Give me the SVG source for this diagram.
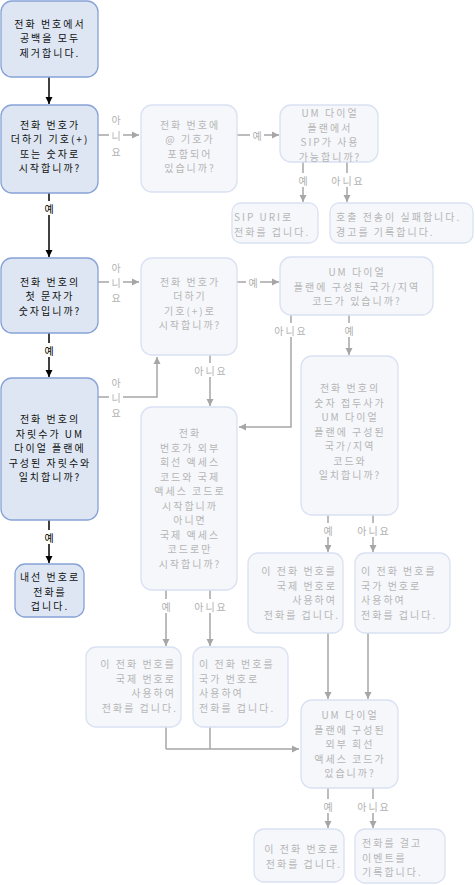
<svg xmlns="http://www.w3.org/2000/svg" width="475" height="885" viewBox="0 0 475 885">
<defs>
<marker id="ab" markerUnits="userSpaceOnUse" markerWidth="8" markerHeight="8" refX="7" refY="4" orient="auto"><path d="M0,0.5 L7,4 L0,7.5 z" fill="#000"/></marker>
<marker id="ag" markerUnits="userSpaceOnUse" markerWidth="8" markerHeight="8" refX="7" refY="4" orient="auto"><path d="M0,0.5 L7,4 L0,7.5 z" fill="#a6a6a6"/></marker>
</defs>
<style>
text{font-family:"Noto Sans CJK KR","Noto Sans",sans-serif;font-size:10px;letter-spacing:2px;dominant-baseline:central}
.a rect{fill:#dee6f3;stroke:#87a2d6;stroke-width:1.3}
.a text{fill:#111;text-anchor:middle}
.f rect{fill:#f5f7fb;stroke:#d9e1f2;stroke-width:1.3}
.f text{fill:#b5b5b5;text-anchor:middle}
.f text.l{text-anchor:start}
.f text.r{text-anchor:end}
.cb{stroke:#000;stroke-width:1.5;fill:none;marker-end:url(#ab)}
.cg{stroke:#a6a6a6;stroke-width:1.5;fill:none;marker-end:url(#ag)}
.cn{stroke:#a6a6a6;stroke-width:1.5;fill:none}
.lb{fill:#fff}
.lt{fill:#b0b0b0;text-anchor:middle}
.ltb{fill:#000;text-anchor:middle}
</style>
<g id="connectors">
<path class="cb" d="M49,77 V104"/>
<path class="cg" d="M98,135 H139"/>
<path class="cg" d="M237,135 H279"/>
<path class="cg" d="M303,162 V202"/>
<path class="cg" d="M347,162 V202"/>
<path class="cb" d="M49,193 V257"/>
<path class="cg" d="M98,282 H139"/>
<path class="cg" d="M237,282 H279"/>
<path class="cb" d="M49,333 V377"/>
<path class="cg" d="M98,397 H157 V357"/>
<path class="cg" d="M210,355 V406"/>
<path class="cg" d="M291,315 V427 H239"/>
<path class="cg" d="M349,315 V355"/>
<path class="cg" d="M328,515 V552"/>
<path class="cg" d="M373,515 V552"/>
<path class="cb" d="M49,520 V563"/>
<path class="cg" d="M166,590 V646"/>
<path class="cg" d="M210,590 V646"/>
<path class="cn" d="M166,727 V749 M210,727 V749"/>
<path class="cg" d="M166,749 H299"/>
<path class="cg" d="M328,633 V699"/>
<path class="cg" d="M368,633 V699"/>
<path class="cg" d="M328,788 V828"/>
<path class="cg" d="M373,788 V828"/>
<g id="labels">
<rect class="lb" x="109" y="110" width="14" height="51"/>
<text class="lt"><tspan x="117" y="119">아</tspan><tspan x="117" y="135">니</tspan><tspan x="117" y="151">요</tspan></text>
<rect class="lb" x="250" y="128" width="14" height="14"/>
<text class="lt" x="258" y="135">예</text>
<rect class="lb" x="296" y="173" width="14" height="14"/>
<text class="lt" x="304" y="180">예</text>
<rect class="lb" x="329" y="173" width="36" height="14"/>
<text class="lt" x="348" y="180">아니요</text>
<rect class="lb" x="42" y="201" width="14" height="14"/>
<text class="ltb" x="50" y="208">예</text>
<rect class="lb" x="109" y="259" width="14" height="46"/>
<text class="lt"><tspan x="117" y="267">아</tspan><tspan x="117" y="282">니</tspan><tspan x="117" y="297">요</tspan></text>
<rect class="lb" x="246" y="275" width="14" height="14"/>
<text class="lt" x="254" y="282">예</text>
<rect class="lb" x="42" y="343" width="14" height="14"/>
<text class="ltb" x="50" y="350">예</text>
<rect class="lb" x="109" y="375" width="14" height="46"/>
<text class="lt"><tspan x="117" y="382">아</tspan><tspan x="117" y="397">니</tspan><tspan x="117" y="412">요</tspan></text>
<rect class="lb" x="192" y="363" width="36" height="14"/>
<text class="lt" x="211" y="370">아니요</text>
<rect class="lb" x="272" y="323" width="36" height="14"/>
<text class="lt" x="291" y="330">아니요</text>
<rect class="lb" x="342" y="323" width="14" height="14"/>
<text class="lt" x="350" y="330">예</text>
<rect class="lb" x="321" y="523" width="14" height="14"/>
<text class="lt" x="329" y="530">예</text>
<rect class="lb" x="355" y="523" width="36" height="14"/>
<text class="lt" x="374" y="530">아니요</text>
<rect class="lb" x="42" y="530" width="14" height="14"/>
<text class="ltb" x="50" y="537">예</text>
<rect class="lb" x="159" y="599" width="14" height="14"/>
<text class="lt" x="167" y="606">예</text>
<rect class="lb" x="192" y="599" width="36" height="14"/>
<text class="lt" x="211" y="606">아니요</text>
<rect class="lb" x="321" y="799" width="14" height="14"/>
<text class="lt" x="329" y="806">예</text>
<rect class="lb" x="355" y="799" width="36" height="14"/>
<text class="lt" x="374" y="806">아니요</text>
</g>
</g>
<g id="n1" class="a"><rect x="1" y="1" width="97" height="76" rx="11"/>
<text><tspan x="50" y="22.5">전화 번호에서</tspan><tspan x="50" y="37">공백을 모두</tspan><tspan x="50" y="51.5">제거합니다.</tspan></text></g>
<g id="n2" class="a"><rect x="1" y="105" width="97" height="88" rx="11"/>
<text><tspan x="50" y="123.5">전화 번호가</tspan><tspan x="50" y="138">더하기 기호(+)</tspan><tspan x="50" y="152.5">또는 숫자로</tspan><tspan x="50" y="167">시작합니까?</tspan></text></g>
<g id="n3" class="f"><rect x="141" y="105" width="96" height="87" rx="11"/>
<text><tspan x="190" y="123.5">전화 번호에</tspan><tspan x="190" y="138">@ 기호가</tspan><tspan x="190" y="152.5">포함되어</tspan><tspan x="190" y="167">있습니까?</tspan></text></g>
<g id="n4" class="f"><rect x="280" y="105" width="98" height="57" rx="11"/>
<text><tspan x="330" y="112">UM 다이얼</tspan><tspan x="330" y="126.5">플랜에서</tspan><tspan x="330" y="141">SIP가 사용</tspan><tspan x="330" y="155.5">가능합니까?</tspan></text></g>
<g id="n5" class="f"><rect x="232" y="203" width="86" height="40" rx="9"/>
<text class="l"><tspan x="234" y="216">SIP URI로</tspan><tspan x="234" y="230.5">전화를 겁니다.</tspan></text></g>
<g id="n6" class="f"><rect x="330" y="203" width="143" height="40" rx="9"/>
<text class="l"><tspan x="336" y="216">호출 전송이 실패합니다.</tspan><tspan x="336" y="230.5">경고를 기록합니다.</tspan></text></g>
<g id="n7" class="a"><rect x="1" y="258" width="97" height="75" rx="11"/>
<text><tspan x="50" y="280.5">전화 번호의</tspan><tspan x="50" y="295">첫 문자가</tspan><tspan x="50" y="309.5">숫자입니까?</tspan></text></g>
<g id="n8" class="f"><rect x="141" y="258" width="96" height="97" rx="11"/>
<text><tspan x="190" y="280.5">전화 번호가</tspan><tspan x="190" y="295">더하기</tspan><tspan x="190" y="309.5">기호(+)로</tspan><tspan x="190" y="324">시작합니까?</tspan></text></g>
<g id="n9" class="a"><rect x="1" y="378" width="97" height="142" rx="11"/>
<text><tspan x="50" y="418">전화 번호의</tspan><tspan x="50" y="432.5">자릿수가 UM</tspan><tspan x="50" y="447">다이얼 플랜에</tspan><tspan x="50" y="461.5">구성된 자릿수와</tspan><tspan x="50" y="476">일치합니까?</tspan></text></g>
<g id="n10" class="f"><rect x="141" y="407" width="96" height="183" rx="11"/>
<text><tspan x="190" y="432">전화</tspan><tspan x="190" y="446.5">번호가 외부</tspan><tspan x="190" y="461">회선 액세스</tspan><tspan x="190" y="475.5">코드와 국제</tspan><tspan x="190" y="490">액세스 코드로</tspan><tspan x="190" y="504.5">시작합니까</tspan><tspan x="190" y="519">아니면</tspan><tspan x="190" y="533.5">국제 액세스</tspan><tspan x="190" y="548">코드로만</tspan><tspan x="190" y="562.5">시작합니까?</tspan></text></g>
<g id="n11" class="f"><rect x="280" y="257" width="153" height="58" rx="11"/>
<text><tspan x="357" y="271">UM 다이얼</tspan><tspan x="357" y="285.5">플랜에 구성된 국가/지역</tspan><tspan x="357" y="300">코드가 있습니까?</tspan></text></g>
<g id="n12" class="f"><rect x="301" y="356" width="97" height="159" rx="11"/>
<text><tspan x="350" y="387">전화 번호의</tspan><tspan x="350" y="401.5">숫자 접두사가</tspan><tspan x="350" y="416">UM 다이얼</tspan><tspan x="350" y="430.5">플랜에 구성된</tspan><tspan x="350" y="445">국가/지역</tspan><tspan x="350" y="459.5">코드와</tspan><tspan x="350" y="474">일치합니까?</tspan></text></g>
<g id="n13" class="f"><rect x="248" y="553" width="95" height="80" rx="10"/>
<text class="r"><tspan x="337" y="570">이 전화 번호를</tspan><tspan x="337" y="584.5">국제 번호로</tspan><tspan x="337" y="599">사용하여</tspan><tspan x="340" y="613.5">전화를 겁니다.</tspan></text></g>
<g id="n14" class="f"><rect x="355" y="553" width="95" height="80" rx="10"/>
<text class="l"><tspan x="361" y="570">이 전화 번호를</tspan><tspan x="361" y="584.5">국가 번호로</tspan><tspan x="361" y="599">사용하여</tspan><tspan x="361" y="613.5">전화를 겁니다.</tspan></text></g>
<g id="n15" class="f"><rect x="86" y="647" width="95" height="80" rx="10"/>
<text class="r"><tspan x="176" y="663">이 전화 번호를</tspan><tspan x="176" y="677.5">국제 번호로</tspan><tspan x="176" y="692">사용하여</tspan><tspan x="178" y="706.5">전화를 겁니다.</tspan></text></g>
<g id="n16" class="f"><rect x="193" y="647" width="95" height="80" rx="10"/>
<text class="l"><tspan x="199" y="663">이 전화 번호를</tspan><tspan x="199" y="677.5">국가 번호로</tspan><tspan x="199" y="692">사용하여</tspan><tspan x="199" y="706.5">전화를 겁니다.</tspan></text></g>
<g id="n17" class="f"><rect x="301" y="700" width="97" height="88" rx="11"/>
<text><tspan x="350" y="714">UM 다이얼</tspan><tspan x="350" y="728.5">플랜에 구성된</tspan><tspan x="350" y="743">외부 회선</tspan><tspan x="350" y="757.5">액세스 코드가</tspan><tspan x="350" y="772">있습니까?</tspan></text></g>
<g id="n18" class="f"><rect x="254" y="829" width="90" height="53" rx="10"/>
<text class="r"><tspan x="340" y="848">이 전화 번호로</tspan><tspan x="342" y="862.5">전화를 겁니다.</tspan></text></g>
<g id="n19" class="f"><rect x="355" y="829" width="90" height="54" rx="10"/>
<text class="l"><tspan x="362" y="842">전화를 걸고</tspan><tspan x="362" y="856.5">이벤트를</tspan><tspan x="362" y="871">기록합니다.</tspan></text></g>
<g id="n20" class="a"><rect x="15" y="564" width="69" height="53" rx="10"/>
<text><tspan x="50" y="576">내선 번호로</tspan><tspan x="50" y="590.5">전화를</tspan><tspan x="50" y="605">겁니다.</tspan></text></g>
</svg>
